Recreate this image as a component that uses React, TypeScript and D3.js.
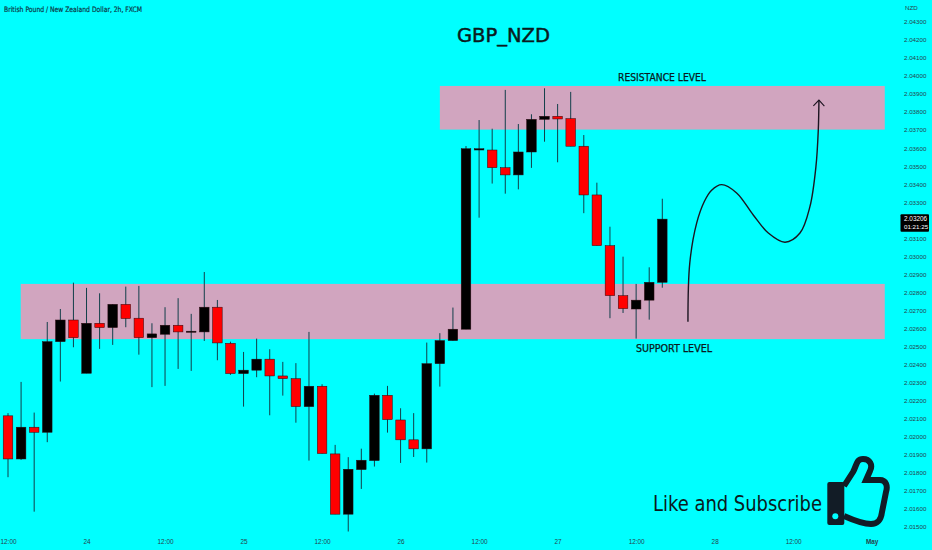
import * as d3 from "d3";
import { useEffect, useRef } from "react";

const opens = [2.02116, 2.01877, 2.02053, 2.02025, 2.02527, 2.02647, 2.02352, 2.02629, 2.02605, 2.02734, 2.02657, 2.02549, 2.02568, 2.02618, 2.02579, 2.02581, 2.02718, 2.02518, 2.0235, 2.02369, 2.0243, 2.02337, 2.02322, 2.02167, 2.0228, 2.01905, 2.01571, 2.01818, 2.01868, 2.0223, 2.02093, 2.01983, 2.01933, 2.02405, 2.02533, 2.02596, 2.03589, 2.03589, 2.03491, 2.03451, 2.03578, 2.03759, 2.03776, 2.03763, 2.0361, 2.0334, 2.03059, 2.02782, 2.02708, 2.02757, 2.02856];
const closes = [2.01877, 2.02053, 2.02025, 2.02527, 2.02647, 2.02549, 2.02629, 2.02605, 2.02734, 2.02655, 2.02549, 2.0257, 2.02618, 2.02581, 2.02585, 2.02718, 2.0252, 2.0235, 2.02369, 2.0243, 2.02337, 2.02322, 2.02167, 2.0228, 2.01907, 2.01571, 2.0182, 2.0187, 2.0223, 2.02095, 2.01983, 2.01933, 2.02405, 2.02533, 2.02596, 2.03596, 2.03596, 2.03491, 2.03451, 2.03578, 2.03759, 2.03776, 2.03761, 2.0361, 2.0334, 2.03059, 2.02782, 2.0271, 2.02757, 2.02856, 2.03206];
const highs = [2.02131, 2.02304, 2.02134, 2.02636, 2.02708, 2.02854, 2.02825, 2.02795, 2.02734, 2.02832, 2.02836, 2.02629, 2.02718, 2.02768, 2.02681, 2.02913, 2.02758, 2.02527, 2.0247, 2.02544, 2.02485, 2.02415, 2.02408, 2.02581, 2.02291, 2.01955, 2.01887, 2.01934, 2.02239, 2.02282, 2.02158, 2.02131, 2.02522, 2.02574, 2.02716, 2.03611, 2.03755, 2.03707, 2.03922, 2.03733, 2.03787, 2.03931, 2.03844, 2.03911, 2.03672, 2.03408, 2.03164, 2.02998, 2.02847, 2.02939, 2.03319];
const lows = [2.01776, 2.01872, 2.01585, 2.0197, 2.02306, 2.02496, 2.02352, 2.02487, 2.02509, 2.02607, 2.02455, 2.02275, 2.02282, 2.02376, 2.02365, 2.02531, 2.02424, 2.02343, 2.02167, 2.0233, 2.02119, 2.02228, 2.02078, 2.01868, 2.01907, 2.01571, 2.01475, 2.01711, 2.01835, 2.02023, 2.01855, 2.01888, 2.01857, 2.02278, 2.02533, 2.02596, 2.03214, 2.03403, 2.03347, 2.03371, 2.0349, 2.03635, 2.03521, 2.0361, 2.03239, 2.03059, 2.02657, 2.02686, 2.02544, 2.02649, 2.02826];

const priceTicks = [2.015, 2.016, 2.017, 2.018, 2.019, 2.02, 2.021, 2.022, 2.023, 2.024, 2.025, 2.026, 2.027, 2.028, 2.029, 2.03, 2.031, 2.033, 2.034, 2.035, 2.036, 2.037, 2.038, 2.039, 2.04, 2.041, 2.042, 2.043];
const timeTicks = [0, 6, 12, 18, 24, 30, 36, 42, 48, 54, 60, 66];
const timeLabels = ["12:00", "24", "12:00", "25", "12:00", "26", "12:00", "27", "12:00", "28", "12:00", "May"];

// [first bar, last bar, top price, bottom price]
const supportZone = [0.97, 67, 2.02847, 2.02541];
const resistanceZone = [33, 67, 2.03944, 2.03702];

const forecastBars = [51.96, 52.1, 52.63, 53.22, 53.75, 54.54, 55.68, 56.95, 58.1, 59.38, 60.52, 61.28, 61.74, 61.92, 61.97];
const forecastPrices = [2.02638, 2.02963, 2.03185, 2.03305, 2.03365, 2.03397, 2.03351, 2.03229, 2.03129, 2.03078, 2.03129, 2.03275, 2.03497, 2.037, 2.03866];

const lastPrice = 2.03206;
const countdown = "01:21:25";

const App = () => {
  const svgRef = useRef<SVGSVGElement | null>(null);

  useEffect(() => {
    const svg = d3.select(svgRef.current);
    svg.selectAll("*").remove();

    const x = d3.scaleLinear().domain([0, 50]).range([8, 662.3]);
    const y = d3.scaleLinear().domain([2.015, 2.043]).range([527, 21.7]);
    const axisFont = "'Liberation Sans', Arial, sans-serif";
    const narrow = "'DejaVu Sans Condensed', 'DejaVu Sans', sans-serif";

    // zones go under the candles
    [supportZone, resistanceZone].forEach(([a, b, top, bottom]) => {
      svg.append("rect")
        .attr("x", x(a))
        .attr("y", y(top))
        .attr("width", x(b) - x(a))
        .attr("height", y(bottom) - y(top))
        .attr("fill", "#d1a5bf");
    });

    const bars = d3.range(opens.length);
    const bodyW = 9.6;

    svg.append("g").selectAll("line").data(bars).join("line")
      .attr("x1", (i) => x(i))
      .attr("x2", (i) => x(i))
      .attr("y1", (i) => y(highs[i]))
      .attr("y2", (i) => y(lows[i]))
      .attr("stroke", "#123f4a")
      .attr("stroke-width", 1);

    svg.append("g").selectAll("rect").data(bars).join("rect")
      .attr("x", (i) => x(i) - bodyW / 2)
      .attr("y", (i) => y(Math.max(opens[i], closes[i])))
      .attr("width", bodyW)
      .attr("height", (i) => Math.max(1, Math.abs(y(opens[i]) - y(closes[i]))))
      .attr("fill", (i) => (closes[i] >= opens[i] ? "#000000" : "#ff0000"))
      .attr("stroke", "#2a0a10")
      .attr("stroke-width", 0.5);

    // price axis on the right
    const yAxis = svg.append("g")
      .attr("transform", "translate(903,0)")
      .call(d3.axisRight(y).tickValues(priceTicks).tickFormat(d3.format(".5f")).tickSize(0).tickPadding(1));
    yAxis.select(".domain").remove();
    yAxis.selectAll("text")
      .attr("font-family", axisFont)
      .attr("font-size", 6.2)
      .attr("fill", "#27424c");

    const xAxis = svg.append("g")
      .attr("transform", "translate(0,538.5)")
      .call(
        d3.axisBottom(x)
          .tickValues(timeTicks)
          .tickFormat((_, i) => timeLabels[i])
          .tickSize(0)
          .tickPadding(1)
      );
    xAxis.select(".domain").remove();
    xAxis.selectAll("text")
      .attr("font-family", axisFont)
      .attr("font-size", 6.4)
      .attr("fill", "#27424c")
      .attr("font-weight", (_, i) => (timeLabels[i] === "May" ? "bold" : "normal"));

    svg.append("text")
      .attr("x", 905)
      .attr("y", 10)
      .attr("font-family", axisFont)
      .attr("font-size", 6.2)
      .attr("fill", "#27424c")
      .text("NZD");

    // last price tag
    svg.append("rect")
      .attr("x", 900.5)
      .attr("y", y(lastPrice) - 5)
      .attr("width", 28.5)
      .attr("height", 17.5)
      .attr("rx", 1)
      .attr("fill", "#000000");
    svg.append("text")
      .attr("x", 904)
      .attr("y", y(lastPrice) + 2)
      .attr("font-family", axisFont)
      .attr("font-size", 6.4)
      .attr("fill", "#ffffff")
      .text(d3.format(".5f")(lastPrice));
    svg.append("text")
      .attr("x", 904)
      .attr("y", y(lastPrice) + 10)
      .attr("font-family", axisFont)
      .attr("font-size", 6.2)
      .attr("fill", "#ffffff")
      .text(countdown);

    // forecast curve with open arrow head
    svg.append("defs").append("marker")
      .attr("id", "arrow")
      .attr("viewBox", "-7 -7 14 14")
      .attr("markerWidth", 14)
      .attr("markerHeight", 14)
      .attr("markerUnits", "userSpaceOnUse")
      .attr("orient", "auto")
      .append("path")
      .attr("d", "M-6,-5.5L0,0L-6,5.5")
      .attr("fill", "none")
      .attr("stroke", "#1c1420")
      .attr("stroke-width", 1.1);

    const curve = d3.line<number>()
      .x((d) => x(d))
      .y((_, i) => y(forecastPrices[i]))
      .curve(d3.curveCatmullRom.alpha(0.5));

    svg.append("path")
      .datum(forecastBars)
      .attr("d", curve)
      .attr("fill", "none")
      .attr("stroke", "#1c1420")
      .attr("stroke-width", 1.4)
      .attr("marker-end", "url(#arrow)");

    // thumb icon
    const icon = svg.append("g").attr("fill", "#121c26");
    icon.append("path")
      .attr("d", "M844,486L853,472C857,465 856,459 863,459C870,459 873,465 870,471L866,480L880,480C886,480 888,486 886,492L882,512C881,520 878,524 871,524C862,524 853,520 844,516")
      .attr("fill", "none")
      .attr("stroke", "#121c26")
      .attr("stroke-width", 6);
    icon.append("rect")
      .attr("x", 827.3)
      .attr("y", 482)
      .attr("width", 17)
      .attr("height", 43)
      .attr("rx", 2);
    icon.append("circle")
      .attr("cx", 835.3)
      .attr("cy", 516.3)
      .attr("r", 3)
      .attr("fill", "#00ffff");

    // labels: text, x, y, size, colour, anchor, length, outline
    const labels: [string, number, number, number, string, string, number, number][] = [
      ["British Pound / New Zealand Dollar, 2h, FXCM", 4, 11.5, 7.5, "#0c3a4a", "start", 138, 0.2],
      ["GBP_NZD", 457, 41.5, 20, "#0a1a20", "start", 93, 0.45],
      ["RESISTANCE LEVEL", 618, 80.5, 10, "#0a1a20", "start", 88, 0.25],
      ["SUPPORT LEVEL", 636, 352, 10, "#0a1a20", "start", 76, 0.25],
      ["Like and Subscribe", 653, 510.5, 21, "#0a1a20", "start", 169, 0],
    ];
    svg.append("g").selectAll("text").data(labels).join("text")
      .attr("x", (d) => d[1])
      .attr("y", (d) => d[2])
      .attr("font-size", (d) => d[3])
      .attr("fill", (d) => d[4])
      .attr("text-anchor", (d) => d[5])
      .attr("textLength", (d) => d[6])
      .attr("lengthAdjust", "spacingAndGlyphs")
      .attr("stroke", (d) => d[4])
      .attr("stroke-width", (d) => d[7])
      .attr("font-family", narrow)
      .text((d) => d[0]);
  }, []);

  return (
    <svg
      ref={svgRef}
      width={932}
      height={550}
      style={{ position: "absolute", left: 0, top: 0, background: "#00ffff" }}
    />
  );
};

export default App;
